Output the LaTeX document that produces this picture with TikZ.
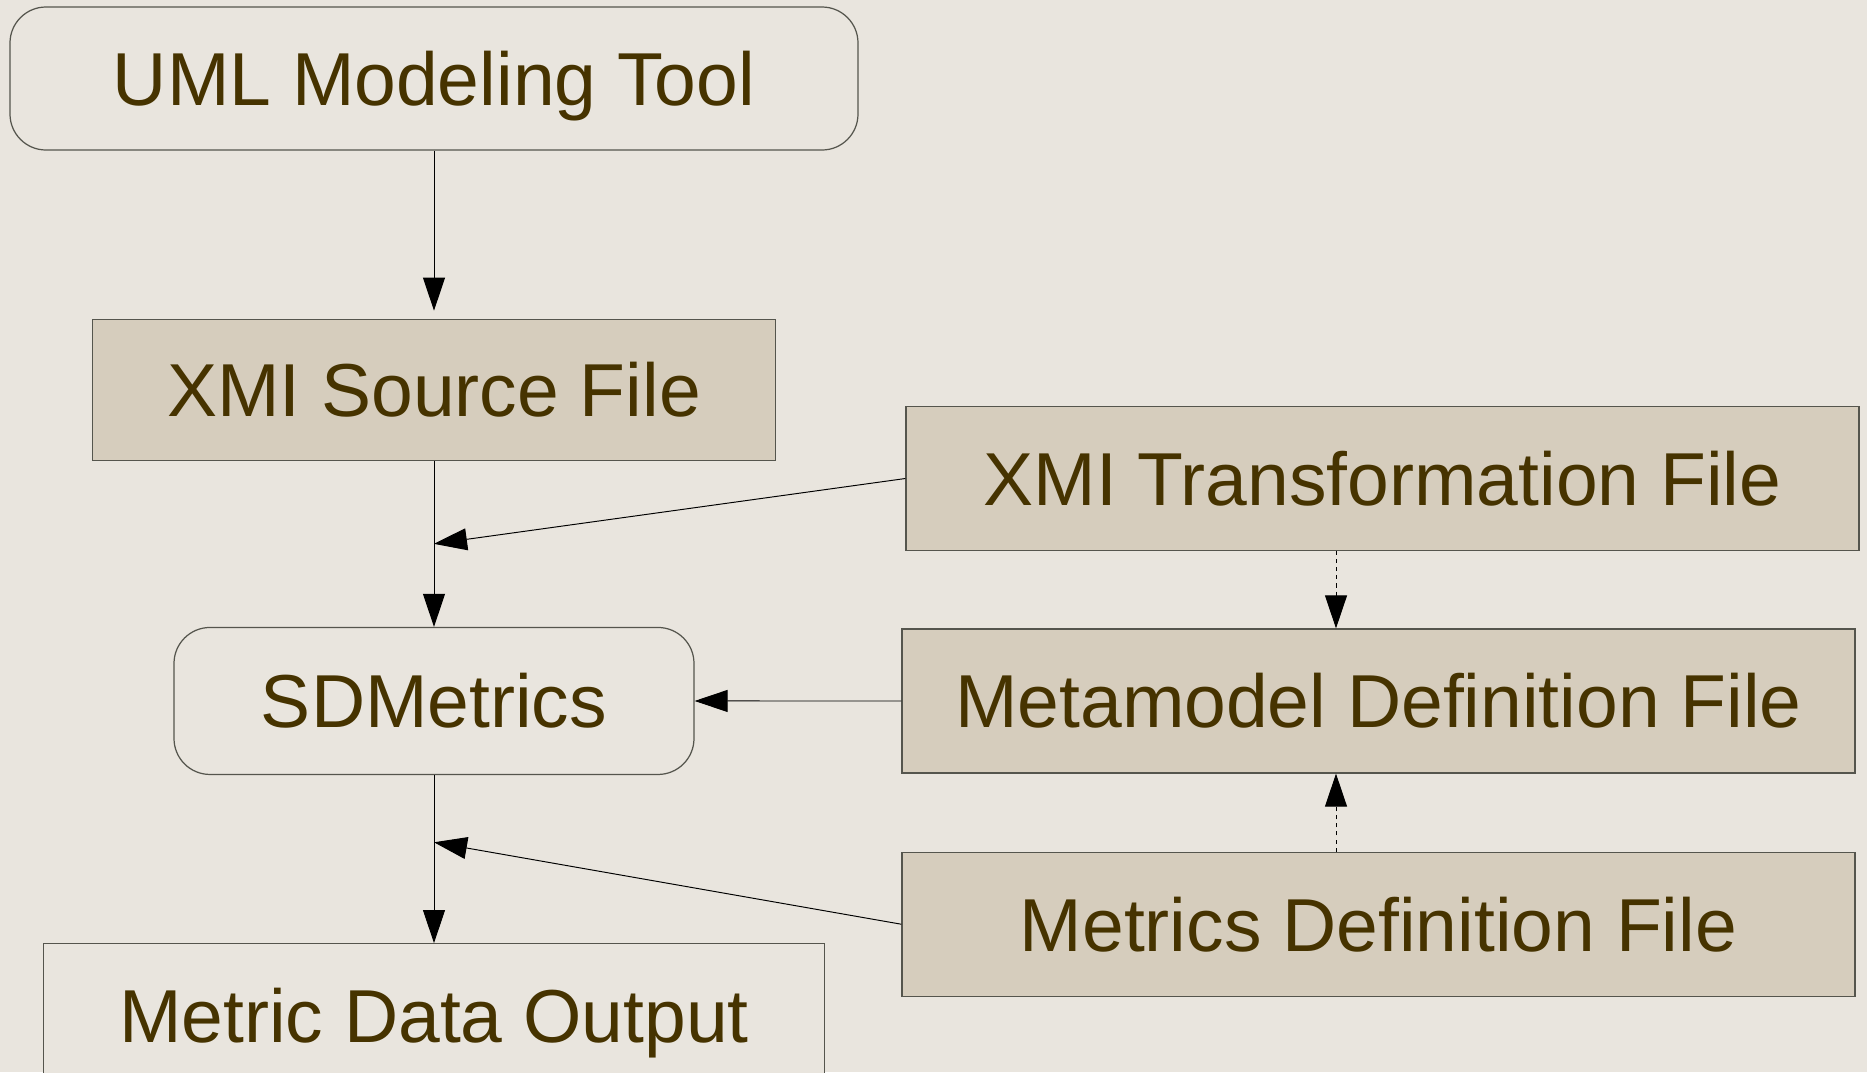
\documentclass[tikz,border=0pt]{standalone}
\usepackage{fontspec}
\setmainfont{Liberation Sans}
\usepackage{tikz}
\usetikzlibrary{positioning,arrows.meta,calc}
\definecolor{paper}{HTML}{E9E5DE}
\definecolor{filetan}{HTML}{D6CDBD}
\definecolor{ink}{HTML}{463300}
\definecolor{edge}{HTML}{55554D}
\newcommand{\boxfont}{\fontsize{42.7}{51}\selectfont}

\begin{document}
\begin{tikzpicture}[u/.style={draw=edge,line width=0.7pt,rounded corners=0.72cm,fill=paper,font=\boxfont,text=ink,inner sep=0pt,text height=30.6pt,text depth=0pt,minimum height=2.86cm},
 f/.style={draw=edge,line width=0.7pt,fill=filetan,font=\boxfont,text=ink,inner sep=0pt,text height=30.6pt,text depth=0pt,minimum height=2.88cm,minimum width=19.06cm},
 o/.style={draw=edge,line width=0.7pt,fill=paper,font=\boxfont,text=ink,inner sep=0pt,text height=30.6pt,text depth=0pt,minimum height=2.86cm},
 a/.style={-{Triangle[length=6.6mm,width=4.4mm]},line width=0.55pt},
 d/.style={a,dash pattern=on 2.3pt off 2.3pt},node distance=3.36cm]
\fill[paper] (0,0) rectangle (37.34,-21.44);
\useasboundingbox (0,0) rectangle (37.34,-21.44);
% tool chain
\node[u,minimum width=16.96cm] (uml) at (8.68,-1.57) {UML Modeling Tool};
\node[f,minimum width=13.66cm,minimum height=2.82cm,below=of uml] (src) {XMI Source File};
\node[u,minimum width=10.4cm,minimum height=2.94cm,below=3.32cm of src] (sdm) {SDMetrics};
\node[o,minimum width=15.62cm,below=of sdm] (out) {Metric Data Output};
\coordinate (j1) at ($(src.south)!0.5!(sdm.north)$);
\coordinate (j2) at ($(sdm.south)!0.4!(out.north)$);
\draw[a,shorten >=0.16cm] (uml)--(src); \draw[a] (src)--(sdm); \draw[a] (sdm)--(out);
% definition files
\node[f] (trans) at (27.65,-9.57) {XMI Transformation File};
\node[f] (meta) at (27.57,-14.02) {Metamodel Definition File};
\node[f,below=1.56cm of meta] (metrics) {Metrics Definition File};
\draw[a] (trans.west)--(j1); \draw[a] (meta.west)--(sdm.east); \draw[a] (metrics.west)--(j2);
\draw[d] ([xshift=-0.93cm]trans.south)--([xshift=-0.85cm]meta.north);
\draw[d] ([xshift=-0.85cm]metrics.north)--([xshift=-0.85cm]meta.south);
\end{tikzpicture}
\end{document}
